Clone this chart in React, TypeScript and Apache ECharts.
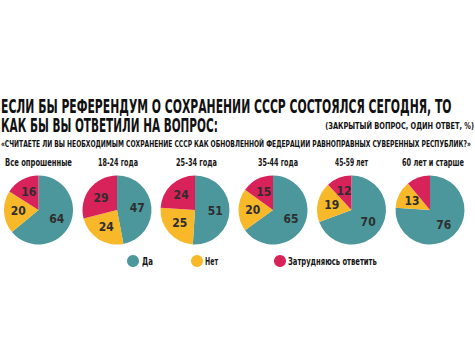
import React, { useEffect, useRef } from "react";
import * as echarts from "echarts";

const groups = ["Все опрошенные", "18-24 года", "25-34 года", "35-44 года", "45-59 лет", "60 лет и старше"];
const yesValues = [64, 47, 51, 65, 70, 76];
const noValues = [20, 24, 25, 20, 19, 13];
const unsureValues = [16, 29, 24, 15, 12, 11];
const answerNames = ["Да", "Нет", "Затрудняюсь ответить"];
const answerColors = ["#4b979b", "#f7b82a", "#d7225a"];

const titleLine1 = "ЕСЛИ БЫ РЕФЕРЕНДУМ О СОХРАНЕНИИ СССР СОСТОЯЛСЯ СЕГОДНЯ, ТО";
const titleLine2 = "КАК БЫ ВЫ ОТВЕТИЛИ НА ВОПРОС:";
const noteText = "(ЗАКРЫТЫЙ ВОПРОС, ОДИН ОТВЕТ, %)";
const questionText = "«СЧИТАЕТЕ ЛИ ВЫ НЕОБХОДИМЫМ СОХРАНЕНИЕ СССР КАК ОБНОВЛЕННОЙ ФЕДЕРАЦИИ РАВНОПРАВНЫХ СУВЕРЕННЫХ РЕСПУБЛИК?»";

const FAMILY = "'DejaVu Sans Condensed', 'DejaVu Sans', sans-serif";

function measure(text: string, size: number): number {
  const ctx = document.createElement("canvas").getContext("2d")!;
  ctx.font = `bold ${size}px ${FAMILY}`;
  return ctx.measureText(text).width || 1;
}

// fitted text: anchor x (by align), vertical middle at y, target width w
function fitText(text: string, x: number, y: number, w: number, size: number, align: "left" | "center" | "right", color = "#161616") {
  const s = w / measure(text, size);
  return {
    type: "text",
    x,
    y,
    scaleX: s,
    silent: true,
    style: {
      text,
      fontFamily: FAMILY,
      fontSize: size,
      fontWeight: "bold",
      fill: color,
      textAlign: align,
      textVerticalAlign: "middle",
    },
  };
}

export default function App() {
  const ref = useRef<HTMLDivElement>(null);
  useEffect(() => {
    document.body.style.margin = "0";
    const chart = echarts.init(ref.current!, undefined, { renderer: "svg" });
    const centersX = [38.5, 117, 195, 273, 351.5, 430];
    const cy = 210;
    const series = groups.map((g, i) => ({
      type: "pie",
      name: g,
      center: [centersX[i], cy],
      radius: 34.5,
      startAngle: 90,
      clockwise: true,
      label: {
        show: true,
        position: "inner",
        formatter: "{c}",
        color: "#2e2e2e",
        fontSize: 12,
        fontWeight: "bold",
        fontFamily: FAMILY,
      },
      labelLine: { show: false },
      emphasis: { disabled: true },
      data: [
        { name: answerNames[0], value: yesValues[i], itemStyle: { color: answerColors[0] } },
        { name: answerNames[1], value: noValues[i], itemStyle: { color: answerColors[1] } },
        { name: answerNames[2], value: unsureValues[i], itemStyle: { color: answerColors[2] } },
      ],
    }));
    const groupTitleCenters = [38.5, 118, 196.5, 278, 351.5, 433];
    const groupTitleWidths = [67, 40, 41, 40, 33, 62];
    const groupTitles = groups.map((g, i) =>
      fitText(g, groupTitleCenters[i], 162, groupTitleWidths[i], 11, "center")
    );
    const legendLefts = [127, 191, 274];
    const legendTextX = [142, 205, 288];
    const legendTextW = [11, 13, 89];
    const legends = answerNames.map((n, i) => ({
      data: [{ name: n, icon: "circle" }],
      left: legendLefts[i],
      top: 255,
      padding: 0,
      itemWidth: 12,
      itemHeight: 12,
      formatter: () => "",
      textStyle: { fontSize: 1 },
      selectedMode: false,
    }));
    const legendTexts = answerNames.map((n, i) => fitText(n, legendTextX[i], 261, legendTextW[i], 11, "left"));
    chart.setOption({
      animation: false,
      backgroundColor: "#ffffff",
      legend: legends,
      graphic: [
        fitText(titleLine1, 1, 106, 451, 20, "left", "#111"),
        fitText(titleLine2, 1, 125.5, 217, 20, "left", "#111"),
        fitText(noteText, 474, 125.5, 149, 9, "right", "#111"),
        fitText(questionText, 1, 143.5, 471, 9.5, "left", "#111"),
        ...groupTitles,
        ...legendTexts,
      ],
      series,
    });
    return () => chart.dispose();
  }, []);
  return <div ref={ref} style={{ width: 475, height: 356 }} />;
}
